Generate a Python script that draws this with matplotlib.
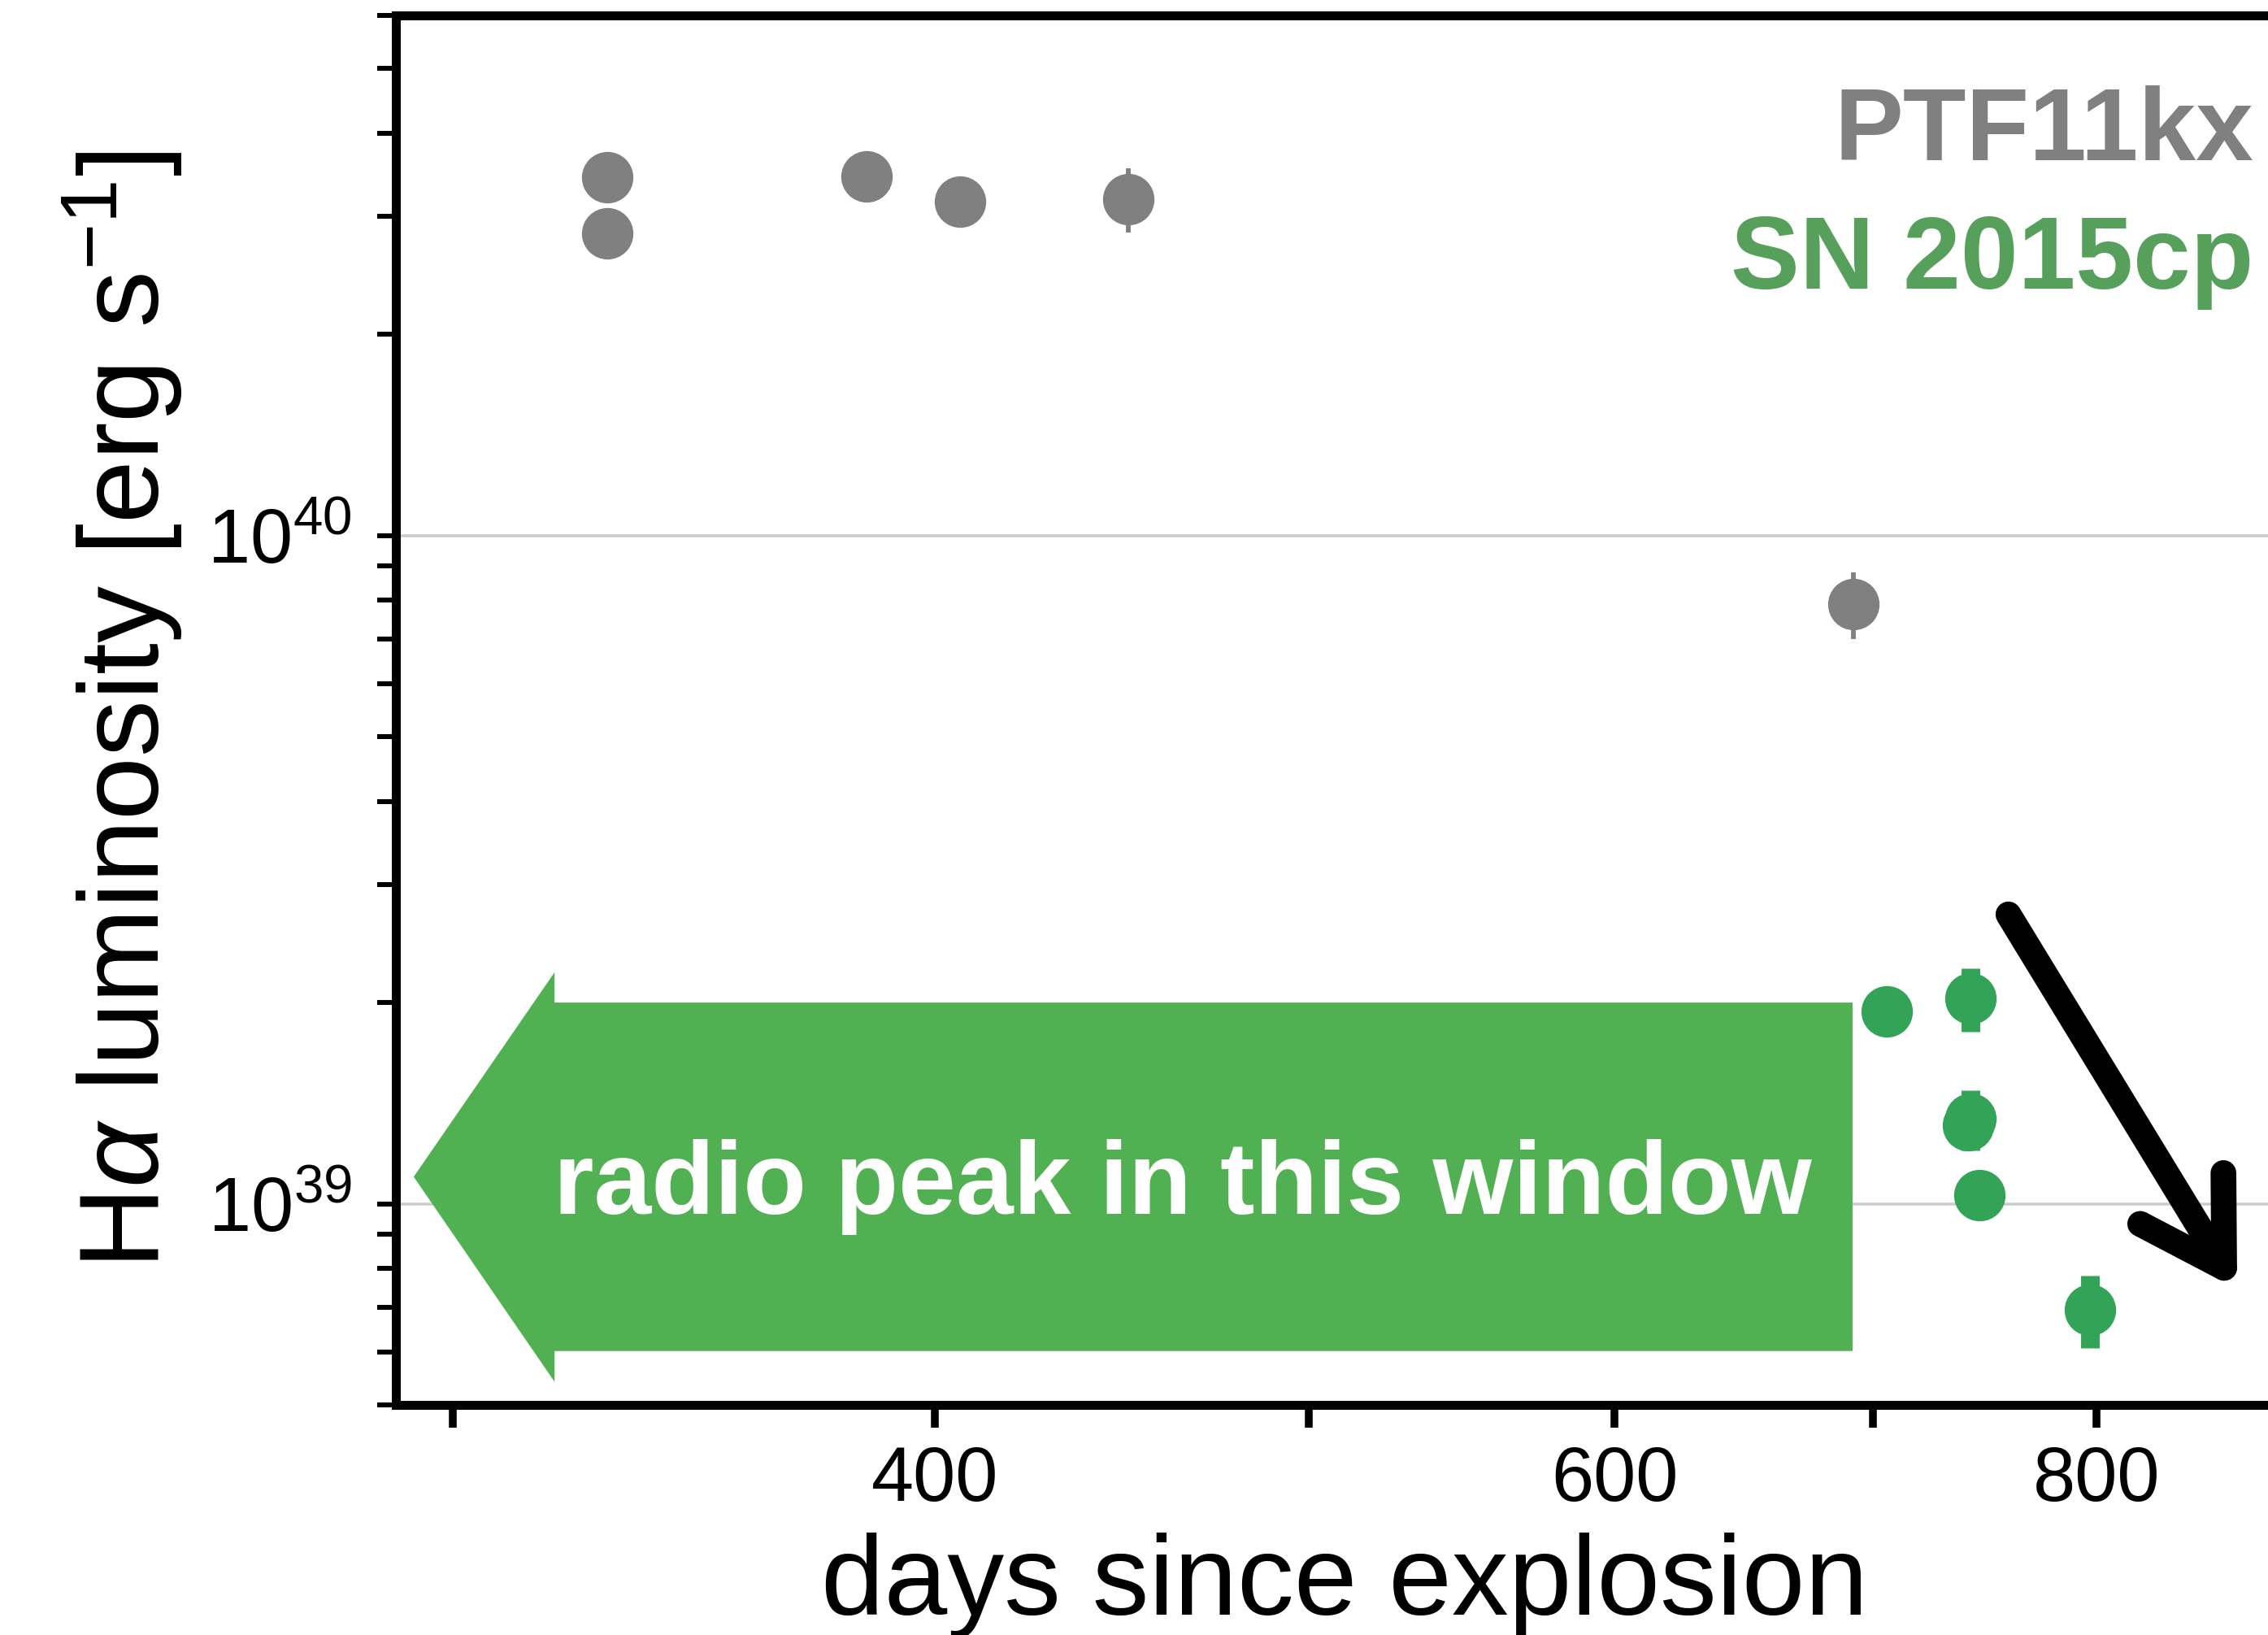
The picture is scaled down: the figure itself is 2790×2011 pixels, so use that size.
import matplotlib
matplotlib.use("Agg")
import matplotlib.pyplot as plt
from matplotlib.patches import Polygon
from matplotlib.ticker import FixedLocator, FuncFormatter, LogLocator, NullLocator

plt.rcParams["font.family"] = ["Liberation Sans", "DejaVu Sans"]
plt.rcParams["mathtext.fontset"] = "custom"
plt.rcParams["mathtext.rm"] = "Liberation Sans"
plt.rcParams["mathtext.it"] = "Liberation Sans:italic"
plt.rcParams["mathtext.bf"] = "Liberation Sans:bold"

# H-alpha luminosities (erg/s) vs days since explosion
ptf_days = [329, 329, 384, 406, 449, 692]
ptf_lum = [3.44e40, 2.83e40, 3.45e40, 3.16e40, 3.19e40, 7.9e39]
ptf_err = [0, 0, 0, 0, 0.35e40, 0.9e39]

sn_days = [706, 742, 742, 741, 746, 797]
sn_lum = [1.94e39, 2.03e39, 1.34e39, 1.31e39, 1.03e39, 6.94e38]
sn_err = [0, 0.22e39, 0.14e39, 0, 0, 0.86e38]

x_major = [300, 400, 500, 600, 700, 800]
x_labelled = [400, 600, 800]

# radio-peak window arrow (days, luminosity)
window_tail = 691.6
window_head = 318.8
window_tip = 293.1
window_body = (6.02e38, 2.0e39)
window_head_span = (5.415e38, 2.22e39)

# fading trend arrow
trend_start = (759, 2.71e39)
trend_end = (870, 7.45e38)

GRAY = "#808080"
GREEN_PTS = "#33a357"
GREEN_TXT = "#56a05c"
GREEN_BOX = "#51b052"

fig = plt.figure(figsize=(9.3, 2011 / 300), dpi=300)
ax = fig.add_axes([487 / 2790, 1 - 1728 / 2011, (2822 - 487) / 2790, (1728 - 19) / 2011])
ax.set_xscale("log")
ax.set_yscale("log")
ax.set_xlim(290, 900)
ax.set_ylim(5e38, 6e40)

# window arrow
y_mid = (window_body[0] * window_body[1]) ** 0.5
verts = [
    (window_tail, window_body[1]),
    (window_head, window_body[1]),
    (window_head, window_head_span[1]),
    (window_tip, y_mid),
    (window_head, window_head_span[0]),
    (window_head, window_body[0]),
    (window_tail, window_body[0]),
]
ax.add_patch(Polygon(verts, closed=True, facecolor=GREEN_BOX, edgecolor="none", zorder=2))
ax.text(463.8, 9.66e38, "radio peak in this window", color="white", fontsize=30.5,
        fontweight="bold", ha="center", va="baseline", zorder=3)

ax.errorbar(ptf_days, ptf_lum, yerr=ptf_err, fmt="o", ms=15.2, color=GRAY,
            mec="none", elinewidth=1.4, capsize=0, zorder=3)
ax.errorbar(sn_days, sn_lum, yerr=sn_err, fmt="o", ms=15.2, color=GREEN_PTS,
            mec="none", elinewidth=5.5, capsize=0, zorder=3)

ax.annotate("", xy=trend_end, xytext=trend_start,
            arrowprops=dict(arrowstyle="->,head_length=0.8,head_width=0.48",
                            lw=7.6, color="black", shrinkA=0, shrinkB=0,
                            mutation_scale=30), zorder=4)

fig.text(2772 / 2790, 1 - 197 / 2011, "PTF11kx", color=GRAY, fontsize=30.5,
         fontweight="bold", ha="right", va="baseline")
fig.text(2772 / 2790, 1 - 355 / 2011, "SN 2015cp", color=GREEN_TXT, fontsize=30.5,
         fontweight="bold", ha="right", va="baseline")

# axes styling
for side in ax.spines.values():
    side.set_linewidth(2.64)
ax.xaxis.set_major_locator(FixedLocator(x_major))
ax.xaxis.set_major_formatter(FuncFormatter(lambda v, p: f"{v:.0f}" if round(v) in x_labelled else ""))
ax.xaxis.set_minor_locator(NullLocator())
ax.yaxis.set_major_locator(LogLocator(base=10))
ax.yaxis.set_minor_locator(LogLocator(base=10, subs=range(2, 10)))
ax.tick_params(axis="x", which="major", length=6.8, width=2.3, pad=5, labelsize=22.5)
ax.tick_params(axis="y", which="both", length=5.6, width=1.45, pad=7.4, labelsize=22.5)
ax.yaxis.grid(True, which="major", color="#cccccc", lw=0.85)
ax.set_axisbelow(True)

ax.set_xlabel("days since explosion", fontsize=33.5)
ax.set_ylabel(r"H$\alpha$ luminosity [erg s$^{-1}$]", fontsize=33.5)
ax.xaxis.set_label_coords(0.5, -0.0919)
ax.yaxis.set_label_coords(-0.1109, 0.5)

fig.savefig("out.png", dpi=300)
